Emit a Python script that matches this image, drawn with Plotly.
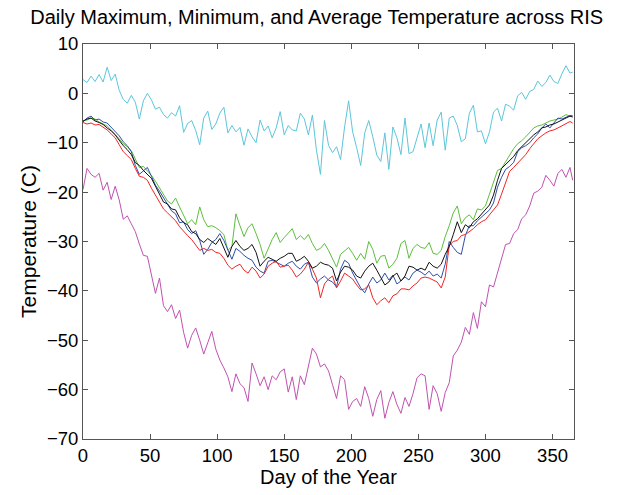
import plotly.graph_objects as go

days = list(range(0, 364, 3)) + [365]

t_max = [2.8, 2.2, 3.5, 2.4, 3.8, 2.3, 5.3, 2.6, 3.9, 0.6, -1.2, -2.0, -0.4, -1.8, -5.2, -1.5, 0.0, -1.3, -3.2, -2.8,
         -4.3, -5.0, -3.9, -4.6, -2.5, -7.9, -6.1, -5.5, -7.5, -10.4, -5.0, -3.6, -7.3, -6.2, -4.0, -2.8, -8.0, -6.5, -7.8, -6.9,
         -10.5, -7.2, -8.8, -10.0, -5.4, -7.6, -6.6, -9.0, -7.0, -3.7, -8.4, -6.5, -7.4, -7.6, -4.0, -5.2, -8.4, -4.4, -11.5, -16.4,
         -5.5, -10.5, -12.0, -10.8, -13.4, -6.8, -1.5, -7.8, -11.0, -14.6, -8.0, -5.5, -8.8, -12.5, -13.8, -8.0, -15.4, -6.8, -9.0, -12.4,
         -5.0, -12.2, -11.8, -9.0, -6.2, -11.0, -6.0, -10.6, -5.4, -3.8, -11.5, -5.0, -4.6, -6.5, -9.8, -9.2, -4.0, -2.4, -7.8, -7.6,
         -10.2, -7.8, -3.8, -3.0, -5.6, -2.2, -2.6, -3.4, -0.5, 0.2, -1.2, 0.4, 0.8, 2.5, 1.4, 2.2, 3.7, 2.4, 2.0, 4.0,
         5.6, 4.1, 4.3]

t_min = [-19.5, -15.2, -16.4, -17.0, -16.2, -19.6, -18.0, -21.5, -18.8, -21.6, -25.5, -24.8, -26.4, -28.0, -30.5, -32.8, -33.0, -37.0, -40.5, -37.4,
         -43.0, -44.2, -42.8, -45.6, -43.9, -48.4, -51.6, -49.0, -47.5, -50.0, -52.8, -50.5, -48.2, -51.8, -54.0, -55.6, -57.4, -60.4, -56.8, -58.8,
         -59.6, -62.4, -54.6, -56.8, -59.2, -57.4, -60.0, -57.2, -58.0, -56.4, -55.8, -60.5, -57.4, -62.0, -57.2, -59.0, -55.4, -51.6, -52.8, -55.4,
         -54.8, -56.2, -59.0, -61.8, -57.2, -58.0, -64.0, -62.4, -61.8, -63.4, -59.4, -61.8, -65.4, -62.0, -60.2, -65.8, -62.6, -60.4, -63.0, -64.8,
         -61.6, -63.4, -60.8, -57.6, -56.8, -57.2, -64.0, -59.2, -60.8, -64.4, -60.6, -58.6, -53.2, -52.0, -50.4, -47.4, -48.8, -44.4, -47.6, -42.2,
         -43.2, -38.8, -39.2, -36.4, -33.4, -30.6, -30.4, -28.4, -27.6, -25.4, -24.6, -22.8, -20.2, -19.8, -19.0, -16.6, -17.6, -18.8, -16.2, -15.4,
         -17.0, -15.0, -17.6]

t_avg_black = [-5.6, -5.2, -5.0, -5.6, -5.9, -6.3, -7.0, -7.6, -8.4, -9.6, -10.6, -11.4, -12.4, -14.0, -14.6, -15.6, -16.4, -17.2, -18.8, -20.4,
               -22.0, -22.4, -23.4, -23.6, -25.2, -26.2, -26.6, -28.0, -28.4, -29.6, -30.2, -29.4, -30.0, -30.6, -29.4, -31.2, -33.2, -31.0, -29.8, -31.0,
               -31.8, -31.4, -30.6, -32.2, -35.0, -34.0, -33.2, -33.6, -34.0, -33.4, -33.0, -32.4, -32.4, -34.0, -33.6, -33.0, -34.0, -35.4, -35.0, -34.2,
               -34.6, -34.8, -35.4, -38.0, -36.2, -35.0, -35.2, -35.8, -37.0, -37.4, -36.0, -35.0, -34.4, -35.8, -37.2, -38.8, -38.2, -37.0, -36.4, -38.0,
               -37.0, -35.0, -35.2, -35.8, -35.4, -35.8, -34.2, -35.0, -35.4, -34.6, -32.6, -31.0, -28.6, -26.0, -28.2, -26.6, -27.2, -26.0, -25.4, -24.4,
               -23.6, -22.6, -20.6, -17.6, -15.2, -14.4, -13.4, -12.8, -11.6, -10.8, -9.9, -9.2, -8.4, -7.8, -7.0, -6.8, -6.4, -6.2, -5.8, -5.4,
               -5.0, -4.6, -4.8]

t_avg_green = [-5.6, -5.4, -5.0, -5.2, -5.8, -6.2, -6.6, -7.4, -8.2, -9.2, -10.2, -10.8, -11.6, -13.2, -15.0, -14.8, -15.6, -16.6, -17.8, -19.2,
               -20.6, -21.8, -22.4, -21.2, -23.0, -24.6, -26.4, -25.6, -26.6, -23.0, -25.6, -27.0, -26.8, -27.2, -27.8, -28.6, -31.8, -31.0, -24.4, -26.8,
               -29.0, -27.2, -26.4, -28.4, -30.6, -33.4, -31.4, -29.6, -28.2, -30.2, -29.2, -28.4, -27.4, -29.6, -28.8, -29.6, -28.6, -30.4, -31.8, -31.4,
               -30.4, -31.8, -33.6, -35.2, -32.6, -31.8, -31.2, -32.4, -33.8, -32.4, -33.6, -30.0, -31.6, -34.4, -33.0, -32.8, -35.4, -34.6, -33.4, -30.4,
               -29.8, -33.4, -31.4, -30.6, -31.2, -31.4, -30.2, -32.4, -32.6, -31.8, -29.0, -26.8, -24.2, -22.8, -26.4, -25.2, -24.6, -25.6, -23.4, -23.6,
               -22.8, -20.4, -17.8, -15.6, -15.2, -13.8, -12.4, -11.2, -10.2, -9.6, -8.8, -8.0, -7.0, -6.6, -6.4, -6.0, -5.6, -5.4, -5.2, -4.8,
               -4.3, -4.6, -4.5]

t_avg_blue = [-5.8, -5.0, -4.6, -5.4, -5.2, -5.8, -6.0, -6.8, -7.6, -8.6, -9.8, -10.6, -11.8, -14.6, -16.4, -15.6, -15.0, -16.8, -18.6, -19.8,
              -21.2, -22.4, -23.8, -24.4, -26.2, -26.0, -27.6, -28.4, -27.8, -29.8, -32.6, -31.6, -30.2, -29.6, -28.4, -29.8, -31.6, -33.6, -31.4, -32.0,
              -32.8, -33.4, -33.8, -35.2, -36.0, -36.4, -34.0, -33.8, -34.2, -34.6, -35.0, -34.4, -34.0, -35.0, -35.6, -34.6, -34.2, -37.2, -38.4, -37.6,
              -37.0, -37.8, -38.2, -39.2, -35.6, -33.8, -34.4, -36.4, -38.0, -39.4, -40.4, -38.6, -37.2, -38.4, -37.8, -36.4, -37.8, -36.8, -38.6, -38.0,
              -37.2, -37.8, -36.4, -35.8, -36.2, -36.8, -36.0, -37.0, -36.6, -37.4, -34.6, -30.0, -31.2, -32.2, -32.6, -28.8, -26.8, -26.8, -25.8, -25.0,
              -24.4, -23.6, -22.2, -19.0, -17.0, -15.4, -14.8, -14.0, -11.8, -11.0, -10.6, -10.0, -9.0, -8.2, -7.0, -6.2, -7.0, -6.0, -5.0, -5.2,
              -4.8, -4.5, -4.6]

t_avg_red = [-5.9, -6.2, -6.0, -6.4, -6.3, -6.8, -7.4, -8.2, -9.0, -10.4, -11.8, -12.6, -13.4, -15.2, -16.8, -17.0, -17.6, -19.2, -20.6, -22.0,
             -23.4, -24.2, -25.0, -25.8, -27.0, -28.0, -28.8, -29.6, -30.8, -31.8, -31.4, -31.8, -31.6, -32.2, -32.4, -33.4, -34.8, -35.6, -35.0, -34.6,
             -35.8, -36.4, -35.2, -36.0, -37.4, -36.6, -35.0, -34.4, -34.0, -35.2, -35.0, -34.8, -35.8, -37.2, -36.6, -35.6, -34.2, -35.6, -37.4, -41.4,
             -38.6, -37.6, -37.0, -39.4, -38.0, -36.4, -37.0, -37.6, -38.8, -39.8, -39.6, -38.8, -41.4, -42.8, -42.0, -41.4, -42.4, -41.0, -40.6, -39.6,
             -39.6, -39.8, -39.0, -38.4, -37.4, -37.2, -37.4, -37.8, -38.2, -39.4, -37.2, -30.8, -30.0, -29.8, -28.8, -28.6, -28.0, -27.4, -26.6, -26.0,
             -25.6, -24.6, -23.8, -22.6, -20.4, -18.0, -15.8, -15.0, -14.2, -13.2, -12.4, -11.2, -10.2, -9.2, -8.6, -8.0, -7.6, -7.4, -7.0, -6.6,
             -6.2, -5.7, -6.0]

x_ticks = [0, 50, 100, 150, 200, 250, 300, 350]
y_ticks = [-70, -60, -50, -40, -30, -20, -10, 0, 10]

series = [
    (t_max, "#5cc6da"),
    (t_min, "#c052b0"),
    (t_avg_green, "#5cbf3c"),
    (t_avg_blue, "#2f4fa8"),
    (t_avg_red, "#f22424"),
    (t_avg_black, "#111111"),
]

fig = go.Figure()
for vals, col in series:
    fig.add_trace(go.Scatter(x=days, y=vals, mode="lines",
                             line=dict(color=col, width=1), showlegend=False,
                             hoverinfo="skip"))

FAM = "Liberation Sans, Arial, sans-serif"
font = dict(family=FAM, size=18.5, color="#000")
axis_common = dict(showline=True, linecolor="#555555", linewidth=1, mirror="ticks",
                   ticks="inside", ticklen=5, tickcolor="#555555", showgrid=False,
                   zeroline=False, tickfont=font)

fig.update_layout(
    width=627, height=495,
    margin=dict(l=83, r=53, t=44, b=52),
    paper_bgcolor="white", plot_bgcolor="white",
    font=font,
    title=dict(text="Daily Maximum, Minimum, and Average Temperature across RIS",
               x=0.505, xref="container", xanchor="center", y=0.965, yanchor="middle",
               font=dict(family=FAM, size=20, color="#000")),
    xaxis=dict(range=[0, 366], tickvals=x_ticks,
               title=dict(text="Day of the Year", standoff=3,
                          font=dict(family=FAM, size=20)),
               **axis_common),
    yaxis=dict(range=[-70, 10], tickvals=y_ticks,
               title=dict(text="Temperature (C)", standoff=4,
                          font=dict(family=FAM, size=21)),
               **axis_common),
)

fig.write_html("out.html")
